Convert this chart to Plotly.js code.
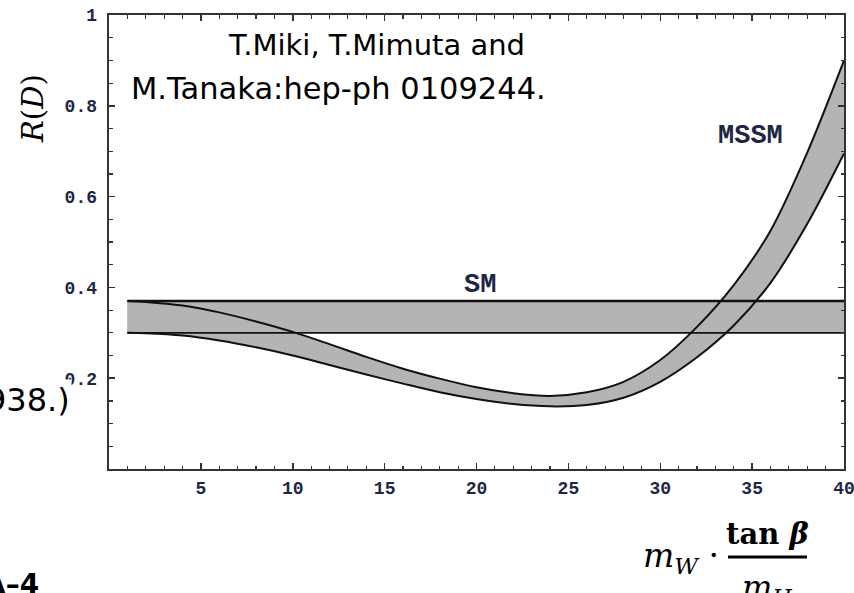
<!DOCTYPE html>
<html>
<head>
<meta charset="utf-8">
<script src="https://cdn.plot.ly/plotly-3.0.1.min.js"></script>
<style>html,body{margin:0;padding:0;background:#fff;}#chart{width:854px;height:593px;}</style>
</head>
<body>
<div id="chart"></div>
<script>
// ---- data ----
const mssmX     = [1, 2, 4, 6, 8, 10, 12, 14, 16, 18, 20, 22, 24, 26, 28, 30, 32, 34, 36, 38, 40];
const mssmUpper = [0.370, 0.368, 0.360, 0.345, 0.325, 0.302, 0.275, 0.247, 0.221, 0.199, 0.180, 0.167, 0.161, 0.169, 0.192, 0.240, 0.313, 0.405, 0.525, 0.697, 0.900];
const mssmLower = [0.300, 0.299, 0.294, 0.283, 0.268, 0.250, 0.229, 0.208, 0.188, 0.169, 0.154, 0.143, 0.138, 0.141, 0.157, 0.192, 0.246, 0.316, 0.410, 0.540, 0.695];
const smX       = [1, 40];
const smUpper   = [0.37, 0.37];
const smLower   = [0.30, 0.30];
const xTickVals = [5, 10, 15, 20, 25, 30, 35, 40];
const xTickText = ['5', '10', '15', '20', '25', '30', '35', '40'];
const yTickVals = [0.2, 0.4, 0.6, 0.8, 1];
const yTickText = ['0.2', '0.4', '0.6', '0.8', '1'];
const bandLabels = ['SM', 'MSSM'];
const citeLines = ['T.Miki, T.Mimuta and', 'M.Tanaka:hep-ph 0109244.'];

// ---- layout geometry ----
const W = 854, H = 593;
const M = {l: 109, r: 10, t: 15, b: 124};
const PW = W - M.l - M.r, PH = H - M.t - M.b;
const px = x => (x - M.l) / PW;
const py = y => (H - M.b - y) / PH;

const GRAY = '#b4b4b4';
const LINE = '#111111';
const TICKC = '#1d2744';
const SPL = {shape: 'spline', smoothing: 0.9};

const traces = [
  {x: smX, y: smLower, mode: 'lines', line: {width: 0}, hoverinfo: 'skip', showlegend: false},
  {x: smX, y: smUpper, mode: 'lines', line: {width: 0}, fill: 'tonexty', fillcolor: GRAY, hoverinfo: 'skip', showlegend: false},
  {x: mssmX, y: mssmLower, mode: 'lines', line: Object.assign({width: 0}, SPL), hoverinfo: 'skip', showlegend: false},
  {x: mssmX, y: mssmUpper, mode: 'lines', line: Object.assign({width: 0}, SPL), fill: 'tonexty', fillcolor: GRAY, hoverinfo: 'skip', showlegend: false},
  {x: smX, y: smUpper, mode: 'lines', line: {color: LINE, width: 2.6}, showlegend: false},
  {x: smX, y: smLower, mode: 'lines', line: {color: LINE, width: 1.8}, showlegend: false},
  {x: mssmX, y: mssmUpper, mode: 'lines', line: Object.assign({color: LINE, width: 2}, SPL), showlegend: false},
  {x: mssmX, y: mssmLower, mode: 'lines', line: Object.assign({color: LINE, width: 2}, SPL), showlegend: false}
];

const tickFont = {family: '"Liberation Mono", "DejaVu Sans Mono", monospace', size: 18, color: TICKC, weight: 'bold'};

const layout = {
  width: W, height: H,
  margin: M,
  paper_bgcolor: '#ffffff', plot_bgcolor: '#ffffff',
  showlegend: false,
  xaxis: {
    range: [0, 40], showgrid: false, zeroline: false,
    showline: true, linecolor: '#333333', linewidth: 2.4, mirror: 'allticks',
    ticks: 'inside', ticklen: 6, tickwidth: 1.5, tickcolor: '#333333',
    tickvals: xTickVals, ticktext: xTickText, tickfont: tickFont, ticklabelstandoff: 1,
    ticklabeloverflow: 'allow',
    minor: {dtick: 1, tick0: 0, ticks: 'inside', ticklen: 3.5, tickwidth: 1.2, tickcolor: '#333333', showgrid: false}
  },
  yaxis: {
    range: [0, 1], showgrid: false, zeroline: false,
    showline: true, linecolor: '#333333', linewidth: 2.4, mirror: 'allticks',
    ticks: 'inside', ticklen: 6, tickwidth: 1.5, tickcolor: '#333333',
    tickvals: yTickVals, ticktext: yTickText, tickfont: tickFont, ticklabelstandoff: 6,
    ticklabeloverflow: 'allow',
    minor: {dtick: 0.05, tick0: 0, ticks: 'inside', ticklen: 3.5, tickwidth: 1.2, tickcolor: '#333333', showgrid: false}
  },
  shapes: [
    {type: 'line', xref: 'paper', yref: 'paper', x0: px(728), x1: px(807), y0: py(557), y1: py(557),
     line: {color: '#000', width: 3}}
  ],
  annotations: [
    {xref: 'paper', yref: 'paper', x: px(376), y: py(45), text: citeLines[0], showarrow: false,
     xanchor: 'center', yanchor: 'middle', font: {family: '"DejaVu Sans", Verdana, sans-serif', size: 29, color: '#000'}},
    {xref: 'paper', yref: 'paper', x: px(338), y: py(88), text: citeLines[1], showarrow: false,
     xanchor: 'center', yanchor: 'middle', font: {family: '"DejaVu Sans", Verdana, sans-serif', size: 30.5, color: '#000'}},
    {xref: 'paper', yref: 'paper', x: px(480), y: py(285), text: bandLabels[0], showarrow: false,
     xanchor: 'center', yanchor: 'middle', font: {family: '"Liberation Mono", monospace', size: 27, color: '#1d2744', weight: 'bold'}},
    {xref: 'paper', yref: 'paper', x: px(750), y: py(136), text: bandLabels[1], showarrow: false,
     xanchor: 'center', yanchor: 'middle', font: {family: '"Liberation Mono", monospace', size: 27, color: '#1d2744', weight: 'bold'}},
    {xref: 'paper', yref: 'paper', x: px(72), y: py(400), text: '938.)', showarrow: false, bgcolor: '#ffffff', borderpad: 1,
     xanchor: 'right', yanchor: 'middle', font: {family: '"DejaVu Sans", Verdana, sans-serif', size: 32, color: '#000'}},
    {xref: 'paper', yref: 'paper', x: px(41), y: py(584), text: 'A\u20134', showarrow: false,
     xanchor: 'right', yanchor: 'middle', font: {family: '"DejaVu Sans", sans-serif', size: 28, color: '#000', weight: 'bold'}},
    {xref: 'paper', yref: 'paper', x: px(33), y: py(109), text: '<i>R</i>(<i>D</i>)', showarrow: false, textangle: -90,
     xanchor: 'center', yanchor: 'middle', font: {family: '"DejaVu Serif", serif', size: 29, color: '#000'}},
    {xref: 'paper', yref: 'paper', x: px(721), y: py(557), text: '<i>m</i><sub><i>W</i></sub> \u00b7', showarrow: false,
     xanchor: 'right', yanchor: 'middle', font: {family: '"DejaVu Serif", serif', size: 33, color: '#000'}},
    {xref: 'paper', yref: 'paper', x: px(767), y: py(534), text: '<b>tan <i>\u03b2</i></b>', showarrow: false,
     xanchor: 'center', yanchor: 'middle', font: {family: '"DejaVu Serif", serif', size: 29, color: '#000'}},
    {xref: 'paper', yref: 'paper', x: px(767), y: py(566), text: '<i>m</i><sub><i>H</i></sub>', showarrow: false,
     xanchor: 'center', yanchor: 'top', font: {family: '"DejaVu Serif", serif', size: 32, color: '#000'}}
  ]
};

Plotly.newPlot('chart', traces, layout, {displayModeBar: false, staticPlot: true});
</script>
</body>
</html>
